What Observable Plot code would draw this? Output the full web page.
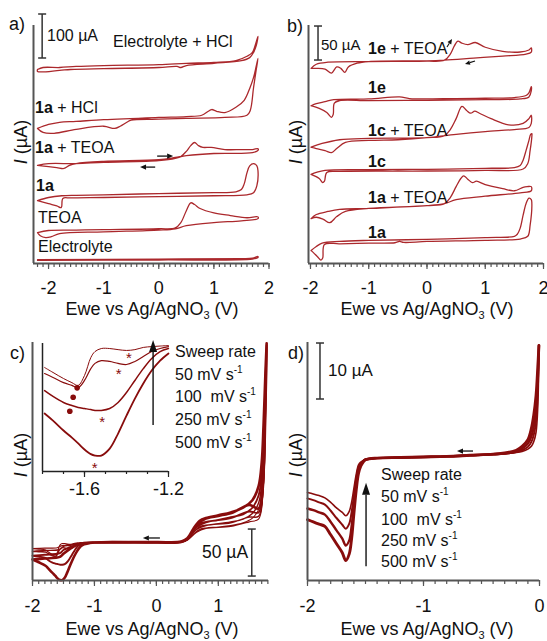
<!DOCTYPE html>
<html><head><meta charset="utf-8">
<script src="https://cdn.jsdelivr.net/npm/d3@7"></script>
<script src="https://cdn.jsdelivr.net/npm/@observablehq/plot@0.6"></script>
<style>
body{margin:0;background:#fff}
#fig{position:relative;width:547px;height:641px;overflow:hidden;font-family:"Liberation Sans",Arial,sans-serif;color:#111;background:#fff}
#fig svg{position:absolute}
.t{position:absolute;white-space:nowrap;line-height:1;transform:translateY(-50%)}
.c{position:absolute;white-space:nowrap;line-height:1;transform:translate(-50%,-50%)}
.r{position:absolute;white-space:nowrap;line-height:1;transform:translate(-50%,-50%) rotate(-90deg)}
.sub{font-size:11px;position:relative;top:4px}
.sup{font-size:10px;position:relative;top:-7px}
</style></head><body><div id="fig"></div>
<script>
// ================= DATA =================
// Panel a (E in V; I in µA relative to each trace's own baseline)
const aNames = ["Electrolyte + HCl", "1a + HCl", "1a + TEOA", "1a", "TEOA", "Electrolyte"];
const aOffsets = [441, 307, 225, 145, 70, 9];
const aE_elecHCl = [-2.2,-2.1,-1.8,-1.5,-1.0,0,0.5,1.0,1.4,1.6,1.7,1.75,1.8,1.77,1.72,1.65,1.5,1.0,0.5,0.4,0.33,0,-1,-1.6,-1.8,-2.2,-2.2];
const aI_elecHCl = [0,4.5,4.5,7,9,11,14,16,20,30,39,55,75,55,39,27,20,14,9,4.5,7,4.5,2,0,-2,-4.5,0];
const aE_1aHCl = [-2.2,-2.0,-1.8,-1.5,-1.0,0,0.5,0.78,0.9,0.96,1.05,1.2,1.4,1.55,1.65,1.72,1.8,1.76,1.72,1.66,1.6,1.2,0.5,0,-0.5,-0.58,-0.7,-0.8,-1.0,-1.5,-1.9,-2.1,-2.2];
const aI_1aHCl = [0,9,14,16,20,25,27,30,39,43,39,36,48,64,91,116,159,127,93,41,30,25,23,21,19,14,5,0,5,-2,-11,-9,0];
const aE_1aTEOA = [-2.2,-2.0,-1.5,-1,0,0.3,0.4,0.5,0.58,0.65,0.72,0.8,0.95,1.2,1.5,1.7,1.8,1.8,1.7,1.0,0.5,0.3,0,-1,-1.5,-1.62,-1.72,-1.85,-2.0,-2.2];
const aI_1aTEOA = [-2,2,2,5,9,14,18,30,43,50,43,39,39,34,34,34,36,32,27,25,20,16,11,7,2,-2,-9,-7,-5,-2];
const aE_1a = [-2.2,-2.0,-1.76,-1.5,-1,0,1.0,1.4,1.5,1.55,1.6,1.65,1.72,1.78,1.8,1.78,1.72,1.6,1.0,0,-1,-1.6,-1.74,-1.77,-1.85,-2.0,-2.2];
const aI_1a = [-2,5,9,10,11,14,16,18,23,36,61,77,82,77,66,32,16,11,9,7,5,4,3,-18,-14,-9,-2];
const aE_teoa = [-2.2,-2.0,-1.5,-1,0,0.3,0.4,0.5,0.58,0.65,0.75,1.0,1.3,1.6,1.8,1.8,1.5,1.0,0.5,0.3,0,-1,-1.8,-1.95,-2.05,-2.15,-2.2];
const aI_teoa = [0,5,6,7,9,11,23,50,68,64,55,45,39,34,36,32,27,23,16,9,6,2,-2,-9,-11,-7,0];
const aE_elec = [-2.2,0,1.5,1.7,1.8,1.8,1.7,0,-2.2];
const aI_elec = [0,1,2,3,7,4.5,1,-1,-2];

// Panel b
const bNames = ["1e + TEOA", "1e", "1c + TEOA", "1c", "1a + TEOA", "1a"];
const bOffsets = [296, 241, 178, 137, 78, 34];
const bE_1eTEOA = [-1.99,-1.9,-1.7,-1,0,0.3,0.4,0.47,0.53,0.6,0.7,0.83,1.0,1.3,1.6,1.75,1.79,1.79,1.7,1.3,0.8,0.3,0,-1,-1.2,-1.35,-1.41,-1.48,-1.55,-1.64,-1.75,-1.9,-1.99];
const bI_1eTEOA = [-9,-3,0,1,1.5,3,12,24,31,28,26,29,22,16,15,18,21,15,12,9,6,3,2,1,-1.5,-7,-15,-9,-7,-16,-10,-9,-9];
const bE_1e = [-1.99,-1.9,-1.75,-1.6,-1,-0.47,-0.3,0.5,1.0,1.5,1.7,1.75,1.79,1.79,1.75,1.6,1.0,0,-1,-1.5,-1.59,-1.61,-1.64,-1.72,-1.85,-1.99];
const bI_1e = [-9,-6,-3,0,1,4,1.5,1.5,2,3,6,10,19,13,4,1,0,-1,-1.5,-1.5,-5,-22,-26,-19,-13,-9];
const bE_1cTEOA = [-1.99,-1.8,-1.5,-1,0,0.3,0.4,0.5,0.6,0.68,0.75,0.82,0.9,1.1,1.4,1.65,1.75,1.79,1.79,1.75,1.5,1.0,0.5,0,-0.5,-1.0,-1.4,-1.55,-1.64,-1.75,-1.9,-1.99];
const bI_1cTEOA = [-7,-1.5,4,6,7,10,19,35,53,47,43,46,43,35,26,28,35,40,28,22,19,16,12,7,4,3,0,-9,-15,-12,-9,-7];
const bE_1c = [-1.99,-1.9,-1.75,-1,0,1.0,1.5,1.6,1.65,1.7,1.75,1.78,1.8,1.8,1.77,1.73,1.65,1.0,0,-0.5,-1.5,-1.72,-1.76,-1.79,-1.85,-1.99];
const bI_1c = [-6,-3,0,1,1.5,3,4,7,15,29,44,53,54,50,29,10,2,0,-1,-1,-1.5,-3,-16,-18,-12,-6];
const bE_1aTEOA = [-1.99,-1.9,-1.7,-1.5,-1,0,0.3,0.4,0.5,0.58,0.63,0.7,0.78,0.85,1.0,1.3,1.5,1.65,1.72,1.79,1.79,1.6,1.0,0.5,0.3,0,-1,-1.4,-1.55,-1.67,-1.78,-1.9,-1.99];
const bI_1aTEOA = [-12,-6,-1.5,1.5,3,7,10,19,35,47,51,46,41,43,38,32,29,34,35,35,29,26,21,16,10,7,3,-1.5,-9,-18,-13,-10,-12];
const bE_1a = [-1.99,-1.9,-1.8,-1.5,-1,0,1.0,1.5,1.55,1.6,1.65,1.7,1.75,1.79,1.8,1.77,1.73,1.6,1.0,0,-0.4,-0.47,-0.55,-1,-1.5,-1.76,-1.79,-1.82,-1.88,-1.95,-1.99];
const bI_1a = [-15,-9,-4,-1.5,0,1.5,4,6,9,18,37,54,62,60,54,22,6,2,0,-1.5,-3,-1.5,-3.5,-4,-5,-6,-26,-29,-24,-18,-15];

// Panel c (sweep rates, µA)
const sweepRates = ["50", "100\u00a0", "250", "500"];
const cAnE = [-2.0,-1.8,-1.6,-1.55,-1.5,-1.4,-1.3,-1.2,-1.0,0.0,0.4,0.5,0.6,0.7,0.8,1.0,1.2,1.4,1.55,1.65,1.7,1.73,1.76,1.78];
const c50An  = [-6.5,-6,-5.5,-4,-3,-2.5,-1.5,-0.5,0,0.5,1,3,9,14,15.5,16.5,18,21,26,35,55,90,150,205];
const c100An = [-9.5,-8.5,-8,-7,-4,-3,-2,-0.5,0,0.5,1,3.5,11,17,18.5,20,22,25,31,42,62,100,160,208];
const c250An = [-14,-13,-12,-11,-8,-5,-2.5,-1,0,0.5,1,4,13,20,22,24,27,30,37,50,72,110,170,210];
const c500An = [-18,-17,-16,-15,-12,-7,-3,-1,0,0.5,1,4.5,15,23,26,29,32,37,45,60,85,125,180,212];
const cCaE = [1.78,1.76,1.72,1.65,1.5,1.2,0.8,0.65,0.5,0.4,0,-1.0];
const c50Ca  = [205,130,50,25,22,17,15,11,2.5,0.5,0,0];
const c100Ca = [208,135,55,28,27,21,18,14,3,0.5,0,0];
const c250Ca = [210,140,60,32,33,26,21.5,16.5,3.5,0.5,0,0];
const c500Ca = [212,145,65,36,40,31,25.5,19,4,0.5,0,0];
const inE = [-1.20,-1.24,-1.28,-1.32,-1.36,-1.40,-1.44,-1.48,-1.52,-1.55,-1.57,-1.60,-1.63,-1.66,-1.70,-1.75,-1.79];
const in50  = [0,-0.2,-0.4,-0.7,-1.5,-1.8,-1.5,-1.1,-1.1,-2.2,-4.4,-10.9,-14.5,-13.5,-12,-9.8,-8];
const in100 = [-0.4,-1.1,-2.2,-4,-5.8,-6.9,-6.5,-5.8,-5.5,-6.5,-8.4,-12.7,-15.3,-14.5,-13.5,-11.6,-10.2];
const in250 = [-1.1,-2.2,-4.7,-8.4,-12.7,-17.1,-20.7,-22.9,-23.6,-23.6,-23.3,-22.9,-22.5,-21.8,-20.7,-18.5,-16.4];
const in500 = [-2.9,-5.5,-9.1,-13.8,-19.3,-25.5,-32,-37.5,-40,-40,-39.5,-37.8,-35.6,-33.5,-30.9,-27.3,-24.7];
const cTailE = [-1.9,-2.0];
const c50Tail = [-7,-6.5], c100Tail = [-9.8,-9.5], c250Tail = [-15,-14], c500Tail = [-21,-18];
const inDots = [[-1.635,-15.4],[-1.654,-18.8],[-1.67,-23.9]];
const inStars = [[-1.389,-3.0],[-1.437,-9.1],[-1.516,-26.3],[-1.551,-43]];

// Panel d
const dE = [-2.0,-1.95,-1.9,-1.85,-1.8,-1.75,-1.7,-1.67,-1.64,-1.62,-1.6,-1.58,-1.56,-1.54,-1.52,-1.5,-1.4,-1.2,-1.0,-0.8,-0.6,-0.4,-0.3,-0.2,-0.15,-0.1,-0.07,-0.05,-0.03,-0.015,-0.005];
const d50  = [-6.25,-6.5,-6.8,-7.2,-8,-9,-9.8,-10.4,-9.6,-8,-5.5,-3,-1.3,-0.8,-0.5,-0.3,-0.1,0,0.1,0.2,0.4,0.55,0.7,0.9,1.1,1.5,2.0,2.8,4.5,9,20];
const d100 = [-7.3,-7.6,-8,-8.4,-9.5,-10.8,-12,-12.7,-11.8,-9.8,-6.8,-3.8,-1.7,-1,-0.6,-0.3,-0.1,0,0.1,0.2,0.4,0.55,0.7,1.0,1.3,1.9,2.8,4.0,6.5,12,20];
const d250 = [-9.1,-9.4,-9.8,-10.2,-11.5,-13,-14.5,-15.7,-14.8,-12.3,-8.5,-4.8,-2.2,-1.2,-0.7,-0.4,-0.1,0,0.1,0.2,0.4,0.6,0.7,1.1,1.6,2.5,3.8,5.5,9,14,20];
const d500 = [-11.1,-11.5,-11.9,-12.3,-13.8,-15.4,-17,-18.4,-17.2,-14.5,-10,-5.8,-2.8,-1.5,-0.8,-0.4,-0.1,0,0.1,0.2,0.4,0.6,0.8,1.3,2.0,3.2,5.2,7.5,11,16,20];

// Axis ticks
const abMajor = [-2,-1,0,1,2];
const aMinor = d3.range(-22, 21).map(d => d / 10);
const bMinor = d3.range(-20, 21).map(d => d / 10);
const cMajor = [-2,-1,0,1];
const cMinor = d3.range(-20, 19).map(d => d / 10);
const inMajor = [-1.6,-1.2];
const inMinor = d3.range(-18, -11).map(d => d / 10);
const dMajor = [-2,-1,0];
const dMinor = d3.range(-20, 1).map(d => d / 10);

// ================= RENDER =================
const RED_AB = "#ab282c", RED_CD = "#880c0c", AXIS = "#555";
const fig = document.getElementById("fig");
const NS = "http://www.w3.org/2000/svg";
const STYLE = 'font-family:"Liberation Sans",Arial,sans-serif;font-size:18px;overflow:visible;background:transparent;color:#111';

function place(svg, left, top) { svg.style.left = left + "px"; svg.style.top = top + "px"; fig.appendChild(svg); }
function label(html, x, y, size, cls = "t") {
  const d = document.createElement("div");
  d.className = cls; d.style.left = x + "px"; d.style.top = y + "px"; d.style.fontSize = size + "px";
  d.innerHTML = html; fig.appendChild(d);
}
function rows(Es, Is, offs) {
  return Es.flatMap((E, k) => E.map((e, i) => ({E: e, I: Is[k][i] + (offs ? offs[k] : 0), k})));
}
function arrowMark(list, {color = "#111", sw = 1.3, head = 6, half = 2.6} = {}) {
  return (index, scales) => {
    const g = document.createElementNS(NS, "g");
    for (const [xa, ya, xb, yb] of list) {
      const X1 = scales.x(xa), Y1 = scales.y(ya), X2 = scales.x(xb), Y2 = scales.y(yb);
      const a = Math.atan2(Y2 - Y1, X2 - X1), c = Math.cos(a), s = Math.sin(a);
      const bx = X2 - head * c, by = Y2 - head * s;
      const ln = document.createElementNS(NS, "line");
      ln.setAttribute("x1", X1); ln.setAttribute("y1", Y1); ln.setAttribute("x2", bx); ln.setAttribute("y2", by);
      ln.setAttribute("stroke", color); ln.setAttribute("stroke-width", sw);
      const p = document.createElementNS(NS, "path");
      p.setAttribute("d", `M${X2},${Y2}L${bx + half * s},${by - half * c}L${bx - half * s},${by + half * c}Z`);
      p.setAttribute("fill", color);
      g.appendChild(ln); g.appendChild(p);
    }
    return g;
  };
}
function scaleBar(x, y0, y1, {cap = 8, color = "#333", sw = 1.5} = {}) {
  return (index, scales) => {
    const g = document.createElementNS(NS, "g");
    const X = scales.x(x), A = scales.y(y0), B = scales.y(y1);
    const segs = [[X, A, X, B], [X - cap / 2, A, X + cap / 2, A], [X - cap / 2, B, X + cap / 2, B]];
    for (const [x1, y1, x2, y2] of segs) {
      const l = document.createElementNS(NS, "line");
      l.setAttribute("x1", x1); l.setAttribute("y1", y1); l.setAttribute("x2", x2); l.setAttribute("y2", y2);
      l.setAttribute("stroke", color); l.setAttribute("stroke-width", sw);
      g.appendChild(l);
    }
    return g;
  };
}
function panel({left, top, width, height, mL, mR, mT, mB, xd, yd, majors, minors, pad, majorLen = 6, minorLen = 4, axisColor = AXIS, axisW = 2, marks}) {
  const svg = Plot.plot({
    width, height, marginLeft: mL, marginRight: mR, marginTop: mT, marginBottom: mB,
    x: {domain: xd, axis: null, label: null}, y: {domain: yd, axis: null, label: null},
    style: STYLE,
    marks: [
      ...marks,
      Plot.axisX(minors, {tickSize: minorLen, tickFormat: () => "", label: null, stroke: axisColor, strokeWidth: 1.2}),
      Plot.axisX(majors, {tickSize: majorLen, tickFormat: () => "", label: null, stroke: axisColor, strokeWidth: 1.2}),
      Plot.axisX(majors, {tickSize: 0, tickPadding: pad, tickFormat: d => String(d), label: null, fill: "#111"}),
      Plot.ruleY([yd[0]], {stroke: axisColor, strokeWidth: axisW}),
      Plot.ruleX([xd[0]], {stroke: axisColor, strokeWidth: axisW})
    ]
  });
  place(svg, left, top);
  return svg;
}

// ---- Panel a ----
panel({
  left: 0, top: 0, width: 275, height: 300, mL: 33, mR: 6.5, mT: 25, mB: 37,
  xd: [-2.273, 2.0], yd: [0, 541], majors: abMajor, minors: aMinor, pad: 17.6,
  marks: [
    Plot.line(rows([aE_elecHCl, aE_1aHCl, aE_1aTEOA, aE_1a, aE_teoa, aE_elec],
                   [aI_elecHCl, aI_1aHCl, aI_1aTEOA, aI_1a, aI_teoa, aI_elec], aOffsets),
      {x: "E", y: "I", z: "k", stroke: RED_AB, strokeWidth: 1.3, curve: "catmull-rom"}),
    arrowMark([[-0.02, 243, 0.27, 243], [-0.056, 218, -0.33, 218]]),
    scaleBar(-2.107, 466, 566)
  ]
});

// ---- Panel b ----
panel({
  left: 275, top: 0, width: 272, height: 300, mL: 33, mR: 4, mT: 25, mB: 37,
  xd: [-2.034, 2.0], yd: [0, 350], majors: abMajor, minors: bMinor, pad: 17.6,
  marks: [
    Plot.line(rows([bE_1eTEOA, bE_1e, bE_1cTEOA, bE_1c, bE_1aTEOA, bE_1a],
                   [bI_1eTEOA, bI_1e, bI_1cTEOA, bI_1c, bI_1aTEOA, bI_1a], bOffsets),
      {x: "E", y: "I", z: "k", stroke: RED_AB, strokeWidth: 1.3, curve: "catmull-rom"}),
    arrowMark([[0.352, 317.6, 0.438, 329.4], [0.833, 297, 0.661, 292.6]], {head: 5, half: 2.2, sw: 1.1}),
    scaleBar(-1.862, 298.5, 348.5)
  ]
});

// ---- Panel c (main) ----
const cE = cAnE.concat(cCaE, inE, cTailE);
const cI = [
  c50An.concat(c50Ca, in50, c50Tail),
  c100An.concat(c100Ca, in100, c100Tail),
  c250An.concat(c250Ca, in250, c250Tail),
  c500An.concat(c500Ca, in500, c500Tail)
];
const cWidths = [1.1, 1.4, 1.9, 2.6];
panel({
  left: 0, top: 330, width: 275, height: 300, mL: 32, mR: 7, mT: 12, mB: 50,
  xd: [-2.0, 1.81], yd: [-40.4, 212.8], majors: cMajor, minors: cMinor, pad: 18.6,
  marks: [
    ...cI.map((I, k) => Plot.line(rows([cE], [I]), {x: "E", y: "I", stroke: RED_CD, strokeWidth: cWidths[k], curve: "catmull-rom"})),
    arrowMark([[0.065, 4.3, -0.21, 4.3]]),
    scaleBar(1.548, -36.2, 13.8)
  ]
});

// ---- Panel c inset ----
const inI = [in50, in100, in250, in500];
const inWidths = [1.0, 1.2, 1.5, 1.8];
panel({
  left: 0, top: 330, width: 200, height: 160, mL: 42, mR: 32, mT: 13, mB: 19,
  xd: [-1.8, -1.2], yd: [-45.8, 0.73], majors: inMajor, minors: inMinor, pad: 10.6,
  majorLen: 6, minorLen: 3, axisColor: "#222", axisW: 1.5,
  marks: [
    ...inI.map((I, k) => Plot.line(rows([inE], [I]), {x: "E", y: "I", stroke: RED_CD, strokeWidth: inWidths[k], curve: "catmull-rom"})),
    Plot.dot(inDots, {x: d => d[0], y: d => d[1], r: 2.8, fill: RED_CD, stroke: "none"}),
    Plot.text(inStars, {x: d => d[0], y: d => d[1], text: () => "*", fill: RED_CD, fontSize: 15, dy: 4}),
    arrowMark([[-1.271, -29.1, -1.271, 1.8]], {head: 12, half: 4, sw: 1.4})
  ]
});

// ---- Panel d ----
const dI = [d50, d100, d250, d500];
const dWidths = [1.6, 2.0, 2.4, 2.9];
panel({
  left: 275, top: 330, width: 272, height: 300, mL: 32, mR: 8, mT: 12, mB: 50,
  xd: [-2.0, 0.0], yd: [-21.96, 20.54], majors: dMajor, minors: dMinor, pad: 18.6,
  marks: [
    ...dI.map((I, k) => Plot.line(rows([dE], [I]), {x: "E", y: "I", stroke: RED_CD, strokeWidth: dWidths[k], curve: "catmull-rom"})),
    arrowMark([[-0.569, 1.07, -0.707, 1.07]]),
    arrowMark([[-1.491, -19.5, -1.491, -4.6]], {head: 12, half: 4, sw: 1.4}),
    scaleBar(-1.888, 10.36, 20.36)
  ]
});

// ================= TEXT =================
const xTitle = 'Ewe vs Ag/AgNO<span class="sub">3</span> (V)';
const yTitle = '<i>I</i> (µA)';
const sup = '<span class="sup">-1</span>';
// panel letters
label("a)", 9, 24, 18); label("b)", 287, 26, 18); label("c)", 10, 353, 18); label("d)", 288, 353, 18);
// axis titles
label(xTitle, 152, 309, 18, "c"); label(xTitle, 427, 309, 18, "c");
label(xTitle, 152, 629, 18, "c"); label(xTitle, 427, 629, 18, "c");
label(yTitle, 21, 142, 18, "r"); label(yTitle, 296, 142, 18, "r");
label(yTitle, 21, 455, 18, "r"); label(yTitle, 296, 455, 18, "r");
// panel a
label("100 µA", 47, 36, 16);
const aLabelY = [42, 108, 148, 186, 218, 247];
const aLabelX = [113, 35, 35, 36, 38, 38];
aNames.forEach((n, i) => label(n.replace(/^(1[a-z])/, "<b>$1</b>"), aLabelX[i], aLabelY[i], 16));
// panel b
label("50 µA", 321, 44, 15);
const bLabelY = [49, 88, 131, 162, 198, 233];
bNames.forEach((n, i) => label(n.replace(/^(1[a-z])/, "<b>$1</b>"), 368, bLabelY[i], 16));
// panel c & d legends
function sweep(x, ys) {
  label("Sweep rate", x, ys[0], 16);
  sweepRates.forEach((r, i) => label(`${r} mV s${sup}`, x, ys[i + 1], 16));
}
sweep(175, [352, 375, 397, 420, 443]);
sweep(381, [475, 497, 520, 541, 562]);
label("50 µA", 202, 553, 17.5);
label("10 µA", 328, 370, 17);
</script></body></html>
